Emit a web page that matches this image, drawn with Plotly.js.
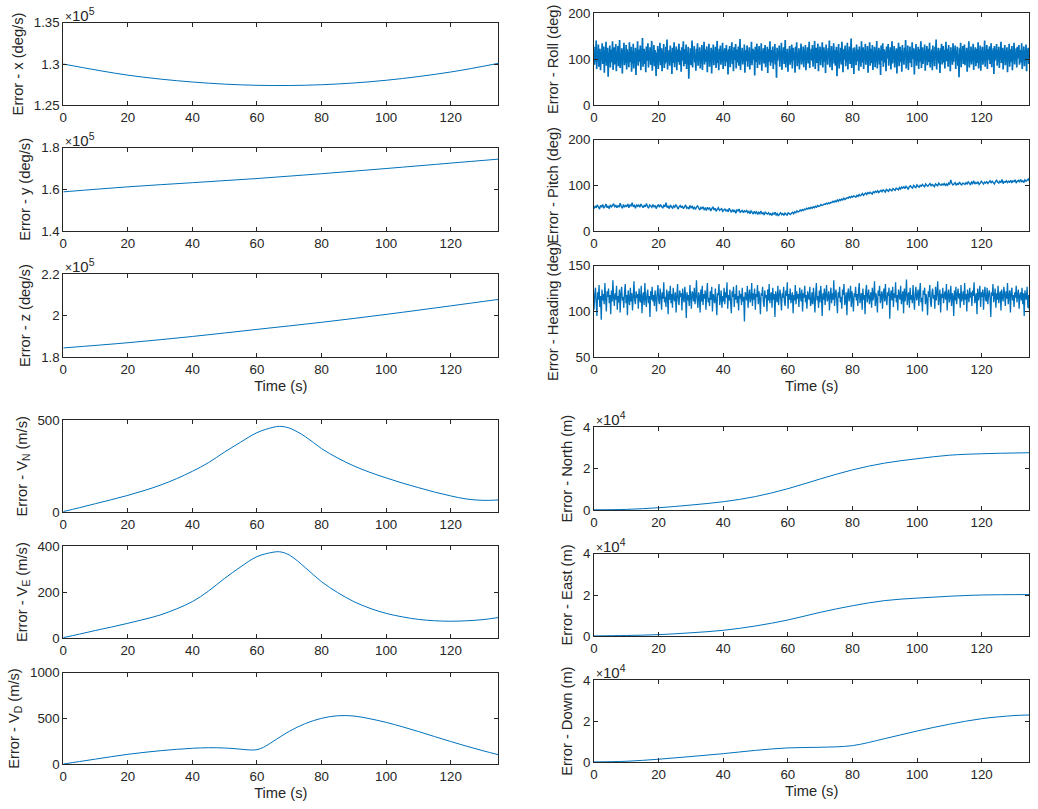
<!DOCTYPE html>
<html>
<head>
<meta charset="utf-8">
<script src="https://cdn.plot.ly/plotly-3.0.1.min.js"></script>
<style>html,body{margin:0;padding:0;background:#fff;}#chart{width:1038px;height:809px;}</style>
</head>
<body>
<div id="chart"></div>
<script>
// ---------------- DATA ----------------
const T_END = 134.75;
// gyro errors (x10^5 deg/s)
const tGyro = [0, 20, 40, 60, 80, 100, 120, 134.75];
const gyroX = [1.300, 1.2865, 1.2782, 1.2742, 1.2749, 1.2803, 1.2903, 1.3008];
const gyroY = [1.588, 1.612, 1.632, 1.652, 1.675, 1.700, 1.726, 1.745];
const gyroZ = [1.845, 1.870, 1.900, 1.934, 1.968, 2.006, 2.047, 2.078];

// attitude errors (deg), uniformly sampled over 0..T_END
const roll = [
112,88,127,95,141,79,118,101,132,84,109,123,76,116,98,135,90,104,128,71,
119,93,138,86,107,125,62,114,99,130,82,121,105,94,139,77,111,126,89,102,
133,74,117,97,129,85,108,142,81,113,96,124,69,120,103,136,87,110,92,131,
78,122,100,115,83,137,94,106,127,73,118,91,134,80,112,99,125,66,116,104,
139,86,109,121,95,130,76,114,101,146,84,107,123,90,117,72,128,97,111,135,
82,119,98,126,88,104,140,75,113,93,131,85,120,106,64,115,100,129,79,122,
96,136,87,110,124,74,118,102,133,81,108,91,127,95,143,78,112,105,120,86,
130,99,115,68,125,92,109,137,83,117,103,128,76,121,94,111,134,88,106,119,
73,126,97,114,139,85,108,122,90,132,79,116,101,127,58,113,96,124,87,110,
141,82,119,104,129,93,107,75,123,98,135,86,112,100,126,80,117,91,131,77,
114,106,138,89,121,95,109,128,72,118,102,134,84,111,97,125,69,120,105,132,
87,115,99,127,81,108,140,92,116,76,123,103,130,88,113,96,136,79,119,106,
124,85,110,131,94,117,67,122,100,129,83,112,107,137,90,118,74,126,98,115,
133,80,109,121,93,128,86,104,144,77,116,101,125,89,111,97,132,71,120,108,
96,130,84,117,103,126,78,113,92,138,87,110,123,99,119,65,127,94,114,134,
81,121,105,129,88,112,98,135,75,118,102,124,91,109,131,83,115,100,127,70,
122,95,113,139,86,107,120,93,128,79,116,104,133,89,111,60,125,97,118,106,
130,84,114,99,136,77,119,102,126,90,108,142,82,117,96,123,73,112,105,129,
88,120,94,132,80,110,125,98,115,71,127,101,137,85,113,92,124,78,118,107,
134,89,111,96,128,83,121,103,131,76,116,99,126,91,109,138,81,114,102,123,
97,131,84,118,106,140,79,113,125,92,108,134,74,121,99,128,87,115,103,137,
82,110,126,95,119,70,132,101,116,88,124,107,141,83,112,97,129,76,117,105,
135,91,120,86,109,127,63,118,102,133,80,114,96,125,89,138,107,72,122,99,
116,130,85,111,94,136,78,119,104,128,90,113,145,81,109,98,124,68,126,101,
117,87,132,96,107,121,75,128,100,115,84,139,93,111,126,79,120,105,134,88,
112,98,129,71,118,103,137,86,109,123,92,131,77,116,101,127,83,121,95,140,
80,114,106,125,89,119,66,130,97,112,135,84,110,122,93,117,74,128,102,113,
133,86,120,99,126,78,108,139,91,115,104,129,82,118,96,124,69,121,107,136,
85,111,127,94,119,73,131,100,114,88,125,109,142,80,116,98,130,77,112,104,
128,92,118,83,137,101,110,124,67,120,97,133,86,113,105,127,79,122,95,115,
139,81,108,126,90,117,103,132,75,119,100,129,87,111,123,94,136,82,114,106,
121,76,130,98,116,85,127,109,143,78,112,101,125,91,118,70,124,104,134,89,
110,129,93,120,80,115,138,96,107,123,84,131,99,117,74,126,102,113,88,135,
95,122,108,130,79,118,100,127,86,111,61,124,97,136,83,116,105,129,90,119,
132,87,114,101,125,73,121,106,139,82,117,94,128,89,112,103,134,77,120,98,
126,85,110,123,92,137,80,115,102,130,75,119,108,127,88,113,96,141,84,117,
104,131,79,122,99,114,128,90,109,135,83,118,101,124,68,129,97,112,106,133,
86,120,95,127,81,116,103,138,92,111,125,78,121,100,131,87,115,107,126,72,
118,98,134,84,110,122,94,129,76,117,105,136,89,113,99,124,82,127,102,116,
131,88,109,120,93,135,79,114,106,128,85,119,97,132,74,121,103,125,90,112
];
const pitch = [
49,55,51,57,53,48,56,52,58,50,54,59,51,55,49,57,53,56,60,52,
57,51,55,53,61,54,50,58,52,56,54,59,51,57,55,62,53,56,50,58,
54,57,52,59,55,51,56,53,60,54,50,57,55,52,58,53,56,49,55,57,
52,58,54,50,56,53,62,51,55,49,57,53,50,55,52,58,54,48,53,56,
51,55,49,53,57,50,52,48,56,51,54,49,52,47,53,55,50,46,52,49,
53,47,50,45,52,48,51,44,49,53,46,50,43,48,51,45,47,49,43,46,
48,44,46,42,50,45,41,47,43,45,39,46,44,48,41,43,45,40,44,42,
45,40,43,38,44,41,37,43,39,42,36,41,38,44,37,40,35,42,39,37,
40,36,38,34,39,37,41,35,38,33,37,40,36,38,34,39,37,35,40,38,
36,39,41,38,42,40,44,42,43,46,44,47,45,48,47,50,48,51,49,52,
50,53,51,54,52,56,54,55,58,56,57,59,58,61,59,62,60,63,62,65,
63,66,64,68,65,69,67,70,68,72,69,71,73,72,75,73,76,74,77,76,
74,78,76,80,77,79,82,78,81,83,80,84,82,85,83,81,86,84,87,85,
88,84,87,89,86,90,88,85,91,89,87,92,90,88,93,91,89,94,92,90,
95,92,96,94,97,93,98,95,91,97,99,96,94,100,97,95,101,98,96,100,
98,102,99,97,103,100,98,101,104,99,102,100,97,103,101,99,105,102,100,103,
101,104,100,103,99,105,102,112,104,101,103,106,100,104,102,107,103,101,105,104,
102,106,103,108,105,101,107,104,110,103,106,104,108,102,105,109,106,103,107,105,
108,104,107,110,105,109,106,103,108,111,107,105,109,106,113,104,108,107,110,106,
109,107,111,105,110,108,112,106,109,111,107,113,108,110,106,112,109,111,114,110
];
const heading = [
102,118,126,110,95,121,113,129,105,117,91,124,112,119,108,131,114,100,122,116,
125,109,118,97,123,111,134,115,106,120,113,128,102,117,110,124,99,119,127,112,
116,104,121,130,109,118,96,123,114,107,126,111,120,101,117,133,112,108,122,115,
119,103,125,113,110,128,98,116,121,107,131,114,105,119,124,109,117,94,122,113,
127,111,118,106,123,115,100,120,129,112,108,125,117,102,121,114,132,110,116,105,
124,118,97,122,113,128,109,119,104,126,115,111,121,99,117,130,112,107,123,116,
120,101,125,114,110,127,117,93,121,112,118,106,129,115,103,122,119,111,126,108,
116,134,113,104,121,117,99,124,111,128,107,119,114,123,102,118,131,110,115,106,
122,113,127,100,119,116,109,125,112,96,120,118,130,107,114,123,104,117,111,126,
108,121,115,132,103,118,112,124,110,98,122,116,127,105,119,113,129,109,117,101,
123,114,119,107,126,111,116,89,121,118,112,128,104,117,124,110,115,131,106,120,
113,125,102,119,116,129,108,122,114,97,120,117,127,111,105,123,115,118,100,124,
112,130,109,117,121,104,126,113,119,94,122,116,110,128,107,118,124,114,101,120,
115,127,111,106,123,117,132,103,119,113,125,109,116,121,98,118,112,129,108,122,
114,119,105,126,117,111,124,100,120,115,128,110,118,103,122,116,113,127,106,110,
121,108,126,114,99,119,131,112,117,104,123,110,128,116,95,120,113,125,107,118,
129,111,115,122,101,117,126,109,120,113,134,106,119,124,112,98,121,115,127,110,
116,103,124,118,130,107,113,121,96,119,125,111,117,128,105,122,114,100,120,116,
127,112,119,106,123,131,109,116,120,102,125,113,118,97,122,129,110,117,124,108,
115,121,104,126,112,118,133,106,120,114,99,123,117,128,109,116,122,103,119,125,
111,130,114,107,121,117,126,92,118,123,112,127,105,120,115,132,110,118,101,124,
119,113,128,108,116,122,98,125,111,119,135,107,117,121,104,126,113,118,109,129,
114,102,120,127,112,117,124,106,121,131,110,115,100,123,118,126,108,119,113,96,
122,116,129,111,105,120,125,114,118,103,127,112,121,133,107,116,124,99,119,115,
126,109,117,122,113,130,101,118,124,110,115,128,106,120,117,95,123,112,127,108,
118,125,114,120,104,129,111,116,122,107,131,113,119,100,124,117,110,126,115,121,
106,123,117,132,109,114,120,97,125,112,118,128,105,121,116,124,102,119,127,113,
111,126,108,119,123,115,94,121,117,130,110,116,125,104,120,113,128,109,118,122,
101,124,116,111,127,119,106,122,114,131,108,117,123,99,120,126,112,118,105,121,
115,128,110,119,124,103,117,121,112,126,108,120,95,123,116,113,127,104,118,102
];

// velocity errors (m/s)
const tVel = [0,5,10,15,20,25,30,35,40,45,50,55,60,65,67,70,75,80,85,90,95,100,105,110,115,120,125,130,134.75];
const velN = [4,25,47,69,92,118,147,182,223,270,328,382,433,462,467,458,411,346,295,252,217,187,159,134,110,89,72,65,67];
const velE = [3,18,34,49,65,82,101,127,159,205,260,310,354,373,375,361,306,245,198,159,130,108,93,82,76,74,76,81,90];
const tVelD = [0,5,10,15,20,25,30,35,40,45,50,55,58,60,62,65,70,75,80,85,90,95,100,105,110,115,120,125,130,134.75];
const velD = [3,30,57,84,109,130,148,163,175,181,178,165,156,160,185,250,360,445,502,530,527,497,458,410,358,303,249,197,148,105];

// position errors (x10^4 m)
const tPos = [0,10,20,30,40,50,60,70,80,90,100,110,120,134.75];
const posN = [0.01,0.03,0.11,0.24,0.40,0.65,1.03,1.50,1.94,2.27,2.48,2.65,2.72,2.77];
const posE = [0.02,0.04,0.08,0.17,0.29,0.50,0.79,1.16,1.48,1.73,1.85,1.94,2.00,2.02];
const tPosD = [0,10,20,30,40,50,60,70,80,90,100,110,120,130,134.75];
const posD = [0.02,0.05,0.15,0.28,0.42,0.58,0.70,0.73,0.81,1.15,1.52,1.85,2.12,2.27,2.30];

const xTicks = [0,20,40,60,80,100,120];
const xTickText = ['0','20','40','60','80','100','120'];

// ---------------- LAYOUT HELPERS ----------------
const W = 1038, H = 809;
const COLOR = '#0072BD';
const INK = '#262626';
const FONT = 'Liberation Sans, Arial, Helvetica, sans-serif';

function sampleTimes(n){ const a=[]; for(let i=0;i<n;i++) a.push(i*T_END/(n-1)); return a; }

// panels: [x-left px, x-right px, top px, bottom px]
const panels = [
  {x:tGyro, y:gyroX, box:[63.3,498.3,22.7,105.3], range:[1.25,1.35], tv:[1.25,1.3,1.35], tt:['1.25','1.3','1.35'], title:'Error - x (deg/s)', exp:'5', spline:true},
  {x:tGyro, y:gyroY, box:[63.3,498.3,147.7,231], range:[1.4,1.8], tv:[1.4,1.6,1.8], tt:['1.4','1.6','1.8'], title:'Error - y (deg/s)', exp:'5', spline:true},
  {x:tGyro, y:gyroZ, box:[63.3,498.3,274,357.3], range:[1.8,2.2], tv:[1.8,2,2.2], tt:['1.8','2','2.2'], title:'Error - z (deg/s)', exp:'5', spline:true, xtitle:true},
  {x:sampleTimes(roll.length), y:roll, box:[594,1029.3,13.3,105.3], range:[0,200], tv:[0,100,200], tt:['0','100','200'], title:'Error - Roll (deg)', w:1.7},
  {x:sampleTimes(pitch.length), y:pitch, box:[594,1029.3,139.7,231], range:[0,200], tv:[0,100,200], tt:['0','100','200'], title:'Error - Pitch (deg)', w:1.4},
  {x:sampleTimes(heading.length), y:heading, box:[594,1029.3,265.7,357.3], range:[50,150], tv:[50,100,150], tt:['50','100','150'], title:'Error - Heading (deg)', xtitle:true, w:1.3},
  {x:tVel, y:velN, box:[63.3,498.3,420.3,512.3], range:[0,500], tv:[0,500], tt:['0','500'], title:'Error - V<sub>N</sub> (m/s)', spline:true},
  {x:tVel, y:velE, box:[63.3,498.3,546,638.3], range:[0,400], tv:[0,200,400], tt:['0','200','400'], title:'Error - V<sub>E</sub> (m/s)', spline:true},
  {x:tVelD, y:velD, box:[63.3,498.3,672.7,764.3], range:[0,1000], tv:[0,500,1000], tt:['0','500','1000'], title:'Error - V<sub>D</sub> (m/s)', spline:true, xtitle:true},
  {x:tPos, y:posN, box:[594,1029.3,427.3,510], range:[0,4], tv:[0,2,4], tt:['0','2','4'], title:'Error - North (m)', exp:'4', spline:true},
  {x:tPos, y:posE, box:[594,1029.3,553.7,636.3], range:[0,4], tv:[0,2,4], tt:['0','2','4'], title:'Error - East (m)', exp:'4', spline:true},
  {x:tPosD, y:posD, box:[594,1029.3,680,762.3], range:[0,4], tv:[0,2,4], tt:['0','2','4'], title:'Error - Down (m)', exp:'4', spline:true, xtitle:true}
];

const traces = [];
const layout = {
  width: W, height: H,
  margin: {l:0, r:0, t:0, b:0},
  paper_bgcolor: '#ffffff', plot_bgcolor: '#ffffff',
  showlegend: false,
  font: {family: FONT, color: INK, size: 13.3},
  annotations: []
};

panels.forEach((p, i) => {
  const n = i + 1;
  const xa = n === 1 ? 'xaxis' : 'xaxis' + n;
  const ya = n === 1 ? 'yaxis' : 'yaxis' + n;
  const xr = n === 1 ? 'x' : 'x' + n;
  const yr = n === 1 ? 'y' : 'y' + n;
  const [l, r, t, b] = p.box;
  traces.push({
    type: 'scatter', mode: 'lines', x: p.x, y: p.y, xaxis: xr, yaxis: yr,
    line: {color: COLOR, width: p.w || 1, shape: p.spline ? 'spline' : 'linear', smoothing: 1, simplify: false},
    hoverinfo: 'skip'
  });
  const common = {
    showline: true, mirror: 'ticks', linecolor: INK, linewidth: 1,
    ticks: 'inside', ticklen: 4, tickcolor: INK, tickwidth: 1,
    showgrid: false, zeroline: false, fixedrange: true,
    tickfont: {family: FONT, size: 13.3, color: INK}
  };
  layout[xa] = Object.assign({}, common, {
    domain: [l / W, r / W], anchor: yr, range: [0, T_END],
    tickmode: 'array', tickvals: xTicks, ticktext: xTickText,
    title: p.xtitle ? {text: 'Time (s)', font: {family: FONT, size: 14.7, color: INK}, standoff: 4} : {text: ''}
  });
  layout[ya] = Object.assign({}, common, {
    domain: [1 - b / H, 1 - t / H], anchor: xr, range: p.range,
    tickmode: 'array', tickvals: p.tv, ticktext: p.tt,
    title: {text: p.title, font: {family: FONT, size: 14.7, color: INK}, standoff: 6}
  });
  if (p.exp) {
    layout.annotations.push({
      xref: 'paper', yref: 'paper', x: l / W, y: 1 - t / H,
      xanchor: 'left', yanchor: 'bottom', showarrow: false,
      text: '<span style="font-size:12px">\u00d7</span>10<sup>' + p.exp + '</sup>',
      font: {family: FONT, size: 15, color: INK}, xshift: 0, yshift: -3
    });
  }
});

Plotly.newPlot('chart', traces, layout, {staticPlot: true, displayModeBar: false});
</script>
</body>
</html>
